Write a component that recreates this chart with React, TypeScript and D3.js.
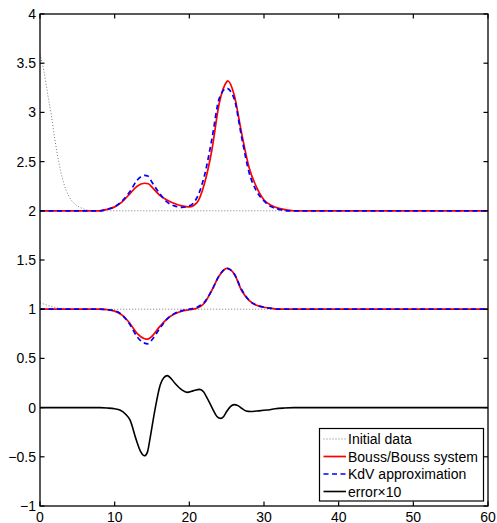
import React from "react";
import * as d3 from "d3";

type P = [number, number];

const xTicks = [0, 10, 20, 30, 40, 50, 60];
const yTicks = [-1, -0.5, 0, 0.5, 1, 1.5, 2, 2.5, 3, 3.5, 4];
const yTickLabels = ["\u22121", "\u22120.5", "0", "0.5", "1", "1.5", "2", "2.5", "3", "3.5", "4"];

const initialTop: P[] = [[0,3.59],[0.5,3.43],[1,3.2],[1.5,2.98],[2,2.72],[2.5,2.5],[3,2.33],[3.5,2.21],[4,2.13],[4.5,2.08],[5,2.05],[5.5,2.03],[6,2.015],[7,2.0],[60,2.0]];
const initialMid: P[] = [[0,1.065],[1,1.04],[2,1.018],[3,1.006],[4,1.0],[60,1.0]];

const boussTop: P[] = [[0,2],[8,2.0],[9,2.015],[10,2.04],[11,2.09],[12,2.17],[13,2.25],[14,2.28],[14.5,2.275],[15,2.24],[16,2.16],[17,2.11],[18,2.075],[19,2.05],[20,2.04],[21,2.08],[22,2.27],[23,2.61],[24,3.09],[25,3.31],[25.15,3.32],[26,3.18],[27,2.79],[28,2.44],[29,2.24],[30,2.11],[31,2.055],[32,2.025],[33,2.01],[34,2.0],[60,2.0]];
const kdvTop: P[] = [[0,2],[8,2.0],[9,2.015],[10,2.04],[11,2.1],[12,2.19],[13,2.31],[14,2.36],[14.5,2.35],[15,2.29],[16,2.18],[17,2.09],[18,2.05],[19,2.035],[20,2.05],[21,2.13],[22,2.35],[23,2.72],[24,3.14],[25,3.245],[26,3.14],[27,2.75],[28,2.39],[29,2.2],[30,2.1],[31,2.04],[32,2.015],[33,2.0],[60,2.0]];

const boussMid: P[] = [[0,1],[8,1.0],[9,0.995],[10,0.98],[11,0.94],[12,0.86],[13,0.755],[14,0.70],[14.4,0.695],[15,0.725],[16,0.82],[17,0.9],[18,0.95],[19,0.98],[20,0.995],[21,1.01],[22,1.06],[23,1.19],[24,1.34],[25,1.415],[26,1.36],[27,1.19],[28,1.09],[29,1.04],[30,1.02],[31,1.008],[32,1.0],[60,1.0]];
const kdvMid: P[] = [[0,1],[8,1.0],[9,0.995],[10,0.985],[11,0.94],[12,0.85],[13,0.72],[14,0.655],[14.4,0.648],[15,0.69],[16,0.8],[17,0.9],[18,0.955],[19,0.985],[20,1.0],[21,1.02],[22,1.07],[23,1.19],[24,1.34],[25,1.415],[26,1.36],[27,1.2],[28,1.09],[29,1.04],[30,1.02],[31,1.008],[32,1.0],[60,1.0]];

const errorX10: P[] = [[0,0],[8,0],[9,-0.004],[10,-0.012],[10.7,-0.025],[11.5,-0.07],[12.05,-0.125],[12.9,-0.33],[13.5,-0.45],[14,-0.49],[14.4,-0.45],[14.7,-0.33],[15.4,-0.02],[16.1,0.23],[16.6,0.305],[17.05,0.325],[17.5,0.3],[18.1,0.245],[19,0.18],[19.7,0.155],[20.5,0.17],[21.4,0.185],[21.9,0.16],[22.3,0.11],[23.2,-0.025],[23.7,-0.09],[24.2,-0.11],[24.6,-0.09],[25,-0.04],[25.5,0.01],[26,0.03],[26.5,0.02],[27,-0.007],[27.6,-0.035],[28.2,-0.04],[29,-0.035],[30.4,-0.025],[31.5,-0.012],[32.6,-0.005],[34,0],[60,0]];

const legendLabels = ["Initial data", "Bouss/Bouss system", "KdV approximation", "error\u00d710"];

const W = 497, H = 523;
const L = 40, R = 488, T = 14, B = 506;
const FONT = "'Liberation Sans', Arial, Helvetica, sans-serif";

export default function App() {
  const x = d3.scaleLinear().domain([0, 60]).range([L, R]);
  const y = d3.scaleLinear().domain([-1, 4]).range([B, T]);
  const line = d3.line<P>().x(d => x(d[0])).y(d => y(d[1])).curve(d3.curveMonotoneX);

  const styles = [
    { stroke: "#7a7a7a", width: 1, dash: "1,2" },
    { stroke: "#ff0000", width: 1.7, dash: undefined },
    { stroke: "#0000ff", width: 1.7, dash: "5,3.5" },
    { stroke: "#000000", width: 1.6, dash: undefined },
  ];
  const tickLen = 4.5;
  const legX = 319.5, legY = 428.5, legW = 164, legH = 72.5;
  const rowY = [439, 456.5, 474, 491.5];

  return (
    <svg width={W} height={H} style={{ position: "absolute", left: 0, top: 0, background: "#fff" }} fontFamily={FONT}>
      <rect x={0} y={0} width={W} height={H} fill="#fff" />
      {[initialTop, initialMid].map((d, i) => (
        <path key={"i" + i} d={line(d) || ""} fill="none" stroke={styles[0].stroke} strokeWidth={styles[0].width} strokeDasharray={styles[0].dash} />
      ))}
      <path d={line(errorX10) || ""} fill="none" stroke={styles[3].stroke} strokeWidth={styles[3].width} />
      {[boussTop, boussMid].map((d, i) => (
        <path key={"b" + i} d={line(d) || ""} fill="none" stroke={styles[1].stroke} strokeWidth={styles[1].width} />
      ))}
      {[kdvTop, kdvMid].map((d, i) => (
        <path key={"k" + i} d={line(d) || ""} fill="none" stroke={styles[2].stroke} strokeWidth={styles[2].width} strokeDasharray={styles[2].dash} />
      ))}
      <rect x={L} y={T} width={R - L} height={B - T} fill="none" stroke="#000" strokeWidth={1.3} />
      {xTicks.map(t => (
        <g key={"xt" + t}>
          <line x1={x(t)} x2={x(t)} y1={B} y2={B - tickLen} stroke="#000" strokeWidth={1.2} />
          <line x1={x(t)} x2={x(t)} y1={T} y2={T + tickLen} stroke="#000" strokeWidth={1.2} />
          <text x={x(t)} y={521.5} textAnchor="middle" fontSize={14} fill="#000">{t}</text>
        </g>
      ))}
      {yTicks.map((t, i) => (
        <g key={"yt" + t}>
          <line x1={L} x2={L + tickLen} y1={y(t)} y2={y(t)} stroke="#000" strokeWidth={1.2} />
          <line x1={R} x2={R - tickLen} y1={y(t)} y2={y(t)} stroke="#000" strokeWidth={1.2} />
          <text x={36} y={y(t) + 5} textAnchor="end" fontSize={14} fill="#000">{yTickLabels[i]}</text>
        </g>
      ))}
      <rect x={legX} y={legY} width={legW} height={legH} fill="#fff" stroke="#000" strokeWidth={1.2} />
      {legendLabels.map((lab, i) => (
        <g key={"lg" + i}>
          <line x1={323.5} x2={346} y1={rowY[i]} y2={rowY[i]} stroke={styles[i].stroke} strokeWidth={styles[i].width} strokeDasharray={styles[i].dash} />
          <text x={348} y={rowY[i] + 5} fontSize={14} fill="#000">{lab}</text>
        </g>
      ))}
    </svg>
  );
}
